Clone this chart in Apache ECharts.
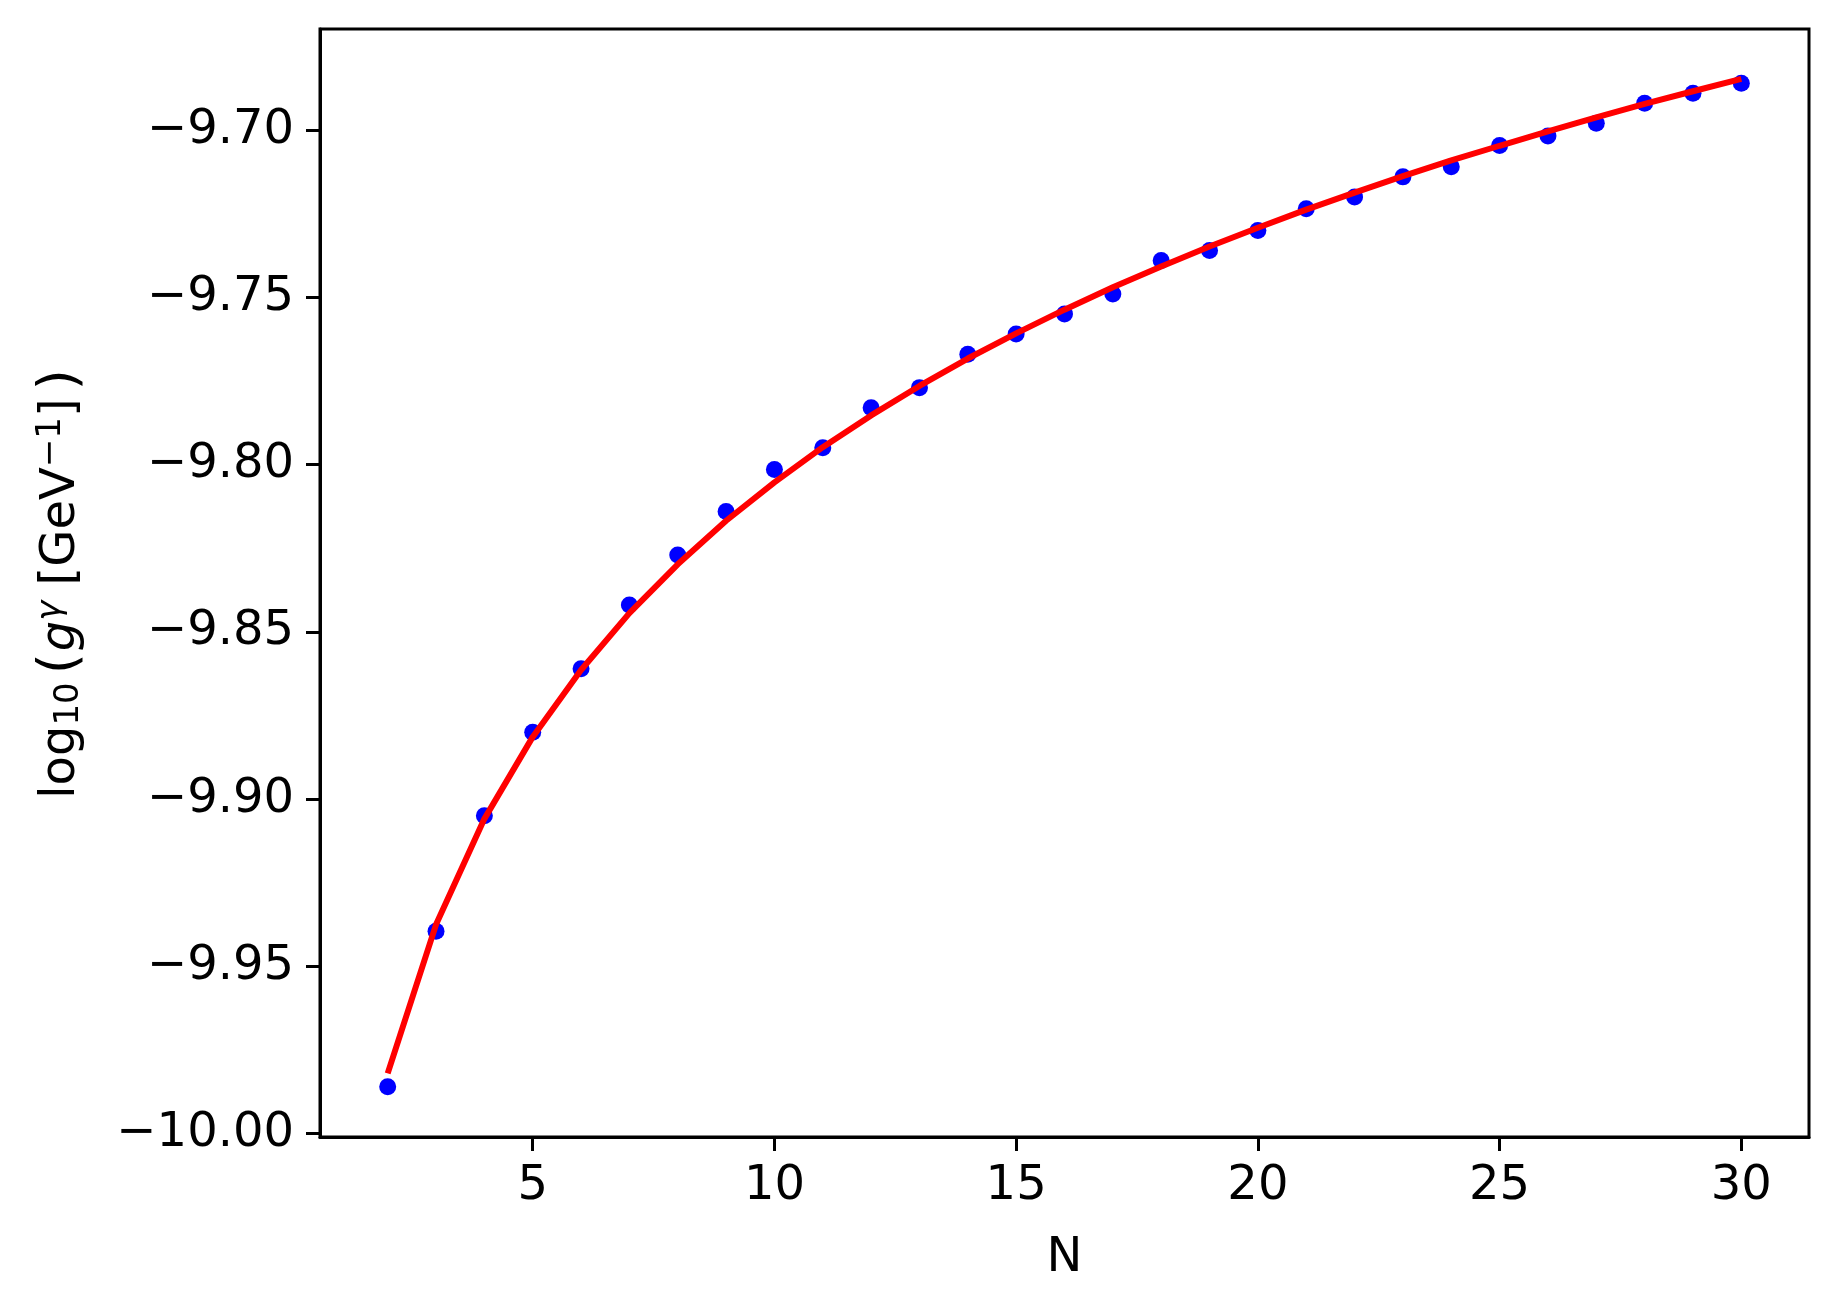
<!DOCTYPE html>
<html>
<head>
<meta charset="utf-8">
<script src="https://cdn.jsdelivr.net/npm/echarts@6/dist/echarts.min.js"></script>
<style>
html,body{margin:0;padding:0;background:#fff;}
#c{width:1838px;height:1310px;}
</style>
</head>
<body>
<div id="c"></div>
<script>
const N = [2,3,4,5,6,7,8,9,10,11,12,13,14,15,16,17,18,19,20,21,22,23,24,25,26,27,28,29,30];
const gObserved = [-9.986,-9.9395,-9.905,-9.880,-9.861,-9.842,-9.827,-9.814,-9.8015,-9.795,-9.783,-9.777,-9.767,-9.761,-9.755,-9.749,-9.739,-9.736,-9.730,-9.7235,-9.720,-9.714,-9.711,-9.7046,-9.7018,-9.698,-9.692,-9.689,-9.686];
const gFit = [-9.982,-9.9375,-9.9059,-9.8814,-9.8614,-9.8444,-9.8298,-9.8168,-9.8053,-9.7948,-9.7853,-9.7765,-9.7683,-9.7608,-9.7537,-9.7470,-9.7408,-9.7348,-9.7292,-9.7238,-9.7187,-9.7138,-9.7091,-9.7047,-9.7004,-9.6962,-9.6922,-9.6884,-9.6847];
const xTicks = [5,10,15,20,25,30];
const yTicks = [-10.00,-9.95,-9.90,-9.85,-9.80,-9.75,-9.70];

const font = 'DejaVu Sans';
const chart = echarts.init(document.getElementById('c'), null, {renderer:'canvas'});
const axisLineStyle = {color:'#000', width:3};
chart.setOption({
  animation:false,
  backgroundColor:'#fff',
  grid:{left:320, right:29, top:29, bottom:173, show:true, borderColor:'#000', borderWidth:3, backgroundColor:'transparent'},
  xAxis:{
    type:'value', min:0.6, max:31.4,
    name:'N', nameLocation:'middle', nameGap:98,
    nameTextStyle:{fontFamily:font, fontSize:48, color:'#000'},
    axisLine:{show:true, onZero:false, lineStyle:axisLineStyle},
    axisTick:{show:true, length:14, lineStyle:{color:'#000', width:3}, customValues:xTicks},
    axisLabel:{fontFamily:font, fontSize:48, color:'#000', margin:26, customValues:xTicks, formatter:v=>String(v)},
    splitLine:{show:false}
  },
  yAxis:{
    type:'value', min:-10.001, max:-9.6698,
    name:'{a|log}{s|10}{b|(}{i|g}{p|γ}{a| [GeV}{q|−1}{a|]}{b|)}',
    nameLocation:'middle', nameGap:228, nameRotate:90,
    nameTextStyle:{
      fontFamily:font, fontSize:48, color:'#000',
      rich:{
        a:{fontFamily:font, fontSize:48, color:'#000', lineHeight:60},
        b:{fontFamily:font, fontSize:54, color:'#000', lineHeight:60, padding:[0,2,0,8]},
        i:{fontFamily:font, fontSize:48, fontStyle:'italic', color:'#000', lineHeight:60},
        s:{fontFamily:font, fontSize:34, color:'#000', lineHeight:60, padding:[14,0,0,0]},
        p:{fontFamily:font, fontSize:34, fontStyle:'italic', color:'#000', lineHeight:60, padding:[0,0,22,0]},
        q:{fontFamily:font, fontSize:34, color:'#000', lineHeight:60, padding:[0,0,22,0]}
      }
    },
    axisLine:{show:true, onZero:false, lineStyle:axisLineStyle},
    axisTick:{show:true, length:14, lineStyle:{color:'#000', width:3}, customValues:yTicks},
    axisLabel:{fontFamily:font, fontSize:48, color:'#000', margin:26, customValues:yTicks,
      formatter:v=>'\u2212'+Math.abs(v).toFixed(2)},
    splitLine:{show:false}
  },
  series:[
    {type:'scatter', data:N.map((n,i)=>[n,gObserved[i]]), symbol:'circle', symbolSize:17,
      itemStyle:{color:'#0000ff', opacity:1}, z:2},
    {type:'line', data:N.map((n,i)=>[n,gFit[i]]), showSymbol:false, symbol:'none', smooth:false,
      lineStyle:{color:'#ff0000', width:6}, z:3}
  ]
});
</script>
</body>
</html>
